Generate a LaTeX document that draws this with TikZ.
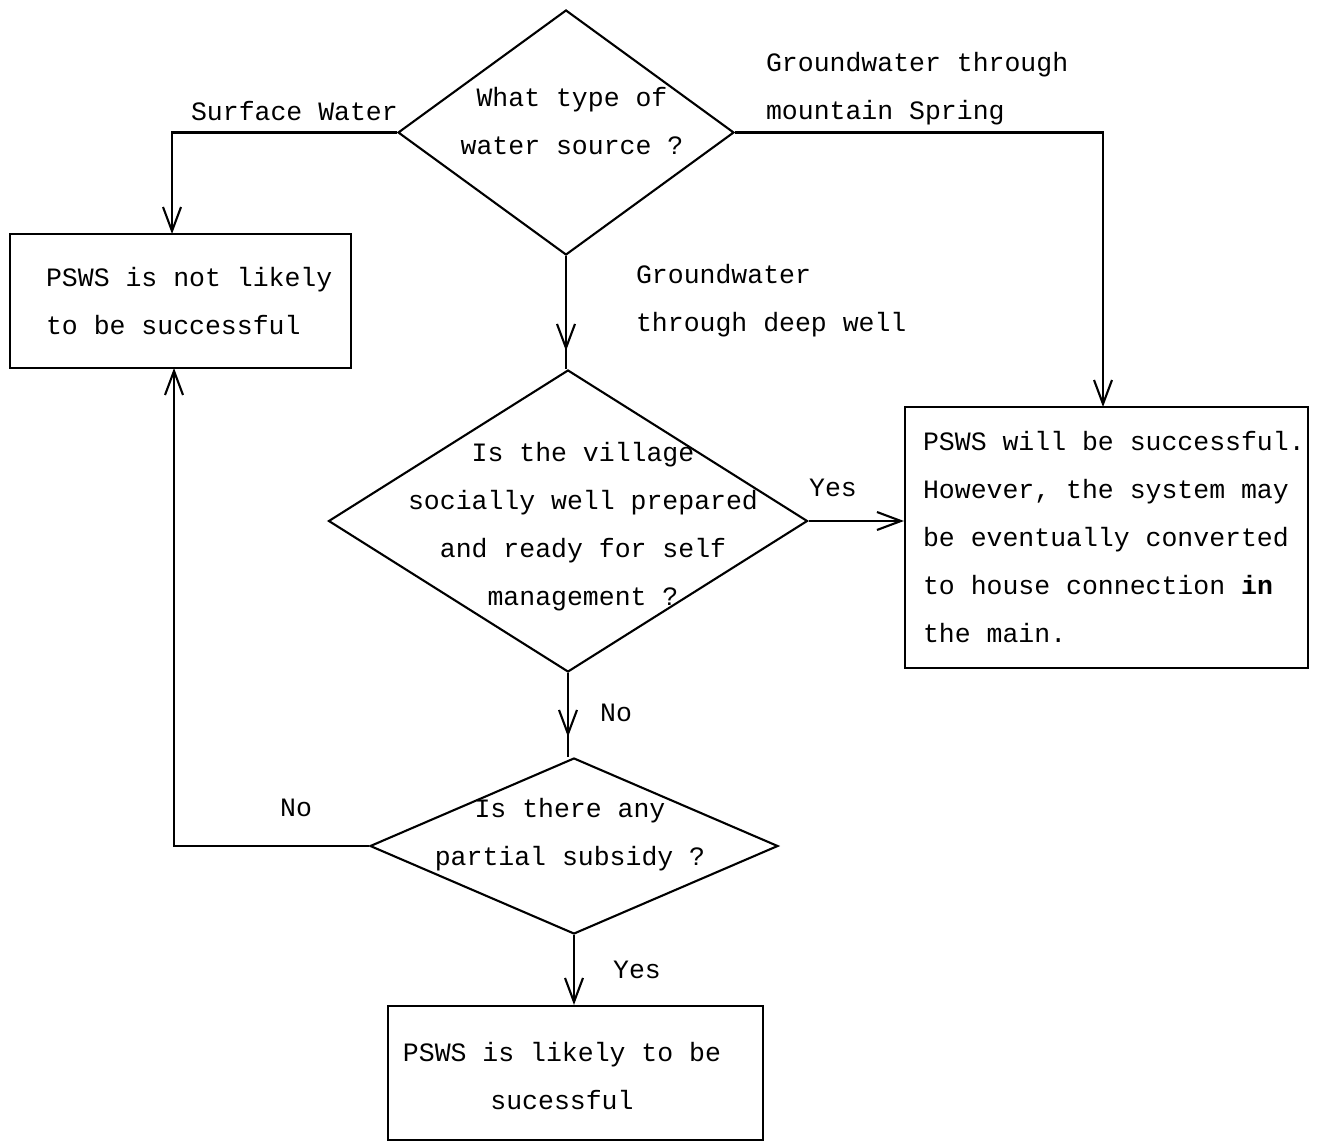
\documentclass[tikz,border=0pt]{standalone}
\usepackage{fontspec}
\setmainfont{Liberation Mono}
\setmonofont{Liberation Mono}
\usetikzlibrary{arrows.meta,shapes.geometric}
\begin{document}
\begin{tikzpicture}[x=1pt,y=-1pt,
  line width=2.1pt,
  txt/.style={inner sep=0pt,font=\fontsize{26.5}{48}\selectfont,align=left},
  ctxt/.style={inner sep=0pt,font=\fontsize{26.5}{48}\selectfont,align=center},
  boxnode/.style={draw,rectangle,inner sep=0pt},
  dia/.style={draw,diamond,inner sep=0pt},
  arr/.style={-{Straight Barb[length=24pt,width=18pt]}}]
\useasboundingbox (0,0) rectangle (1317,1142);
% boxes
\node[boxnode,minimum width=341pt,minimum height=134pt] (box1) at (180.5,301) {};
\node[boxnode,minimum width=403pt,minimum height=261pt] (box2) at (1106.5,537.5) {};
\node[boxnode,minimum width=375pt,minimum height=134pt] (box3) at (575.5,1073) {};
% diamonds
\node[dia,minimum width=336pt,minimum height=245pt] (d1) at (566,132.5) {};
\node[dia,minimum width=479pt,minimum height=302pt] (d2) at (568,521) {};
\node[dia,minimum width=408pt,minimum height=176pt] (d3) at (574,846) {};
% texts
\node[txt,anchor=west] (t1) at (45,301) {PSWS is not likely\\to be successful};
\node[txt,anchor=west] (t2) at (922,537) {PSWS will be successful.\\However, the system may\\be eventually converted\\to house connection \textbf{in}\\the main.};
\node[ctxt] (t3) at (562,1076) {PSWS is likely to be\\sucessful};
\node[ctxt] (td1) at (572,121) {What type of\\water source ?};
\node[ctxt] (td2) at (583,527) {Is the village\\socially well prepared\\and ready for self\\management ?};
\node[ctxt] (td3) at (570,834.5) {Is there any\\partial subsidy ?};
% labels
\node[txt,anchor=west] (l1) at (190,111) {Surface Water};
\node[txt,anchor=west] (l2) at (765,89) {Groundwater through\\mountain Spring};
\node[txt,anchor=west] (l3) at (635,301) {Groundwater\\through deep well};
\node[ctxt] (l4) at (833,488) {Yes};
\node[ctxt] (l5) at (616,713) {No};
\node[ctxt] (l6) at (296,808) {No};
\node[ctxt] (l7) at (637,970) {Yes};
% coordinates
\coordinate (c1) at (172,234);
\coordinate (c2) at (174,368);
\coordinate (c3) at (1103,407);
% connectors
\draw[arr] (d1.west) -| (c1);
\draw[arr] (d1.east) -| (c3);
\draw (d1.south) -- (d1.south |- d2.north);
\draw[arr,shorten >=18pt] (d1.south) -- (d1.south |- d2.north);
\draw[arr] (d2.east) -- (d2.east -| box2.west);
\draw (d2.south) -- (d2.south |- d3.north);
\draw[arr,shorten >=20pt] (d2.south) -- (d2.south |- d3.north);
\draw[arr] (d3.west) -| (c2);
\draw[arr] (d3.south) -- (d3.south |- box3.north);
\end{tikzpicture}
\end{document}
